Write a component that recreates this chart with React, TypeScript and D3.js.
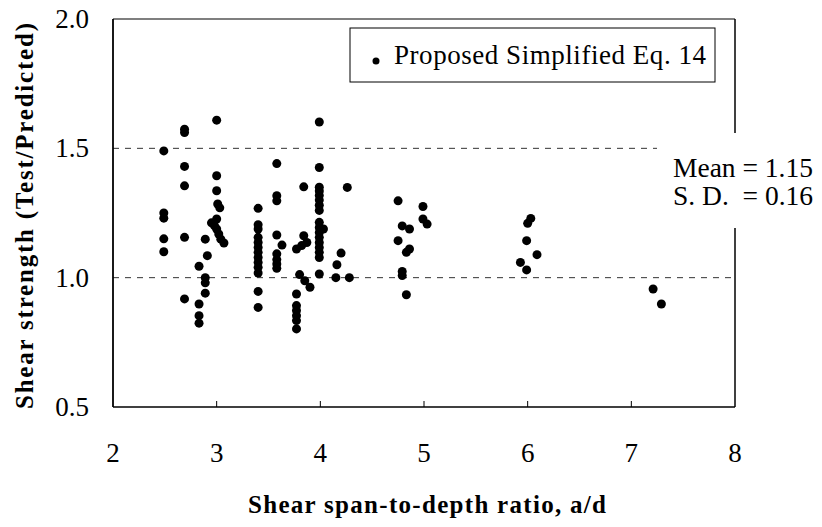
import React from "react";
import * as d3 from "d3";

const ratioAD: number[] = [
  2.49, 2.49, 2.49, 2.49, 2.49,
  2.69, 2.69, 2.69, 2.69, 2.69, 2.69,
  2.83, 2.83, 2.83, 2.83,
  2.89, 2.91, 2.89, 2.89, 2.89,
  3.0, 3.0, 3.0, 3.01, 3.03, 3.0, 2.95, 2.98, 3.0, 3.02, 3.04, 3.07,
  3.4, 3.4, 3.4, 3.4, 3.4, 3.4, 3.4, 3.4, 3.4, 3.4, 3.4, 3.4, 3.4,
  3.58, 3.58, 3.58, 3.58, 3.58, 3.58, 3.58, 3.58, 3.63,
  3.77, 3.82, 3.84, 3.87, 3.84, 3.8, 3.85, 3.9, 3.77, 3.77, 3.77, 3.77, 3.77, 3.77,
  3.99, 3.99, 3.99, 3.99, 3.99, 3.99, 3.99, 3.99, 3.99, 3.99, 3.99, 3.99, 3.99, 3.99, 3.99, 3.99, 3.99,
  4.03, 4.16, 4.15, 4.2, 4.26, 4.28,
  4.75, 4.99, 4.99, 5.03, 4.79, 4.86, 4.75, 4.83, 4.86, 4.79, 4.79, 4.83,
  6.03, 6.0, 5.99, 6.09, 5.93, 5.99,
  7.21, 7.29,
];

const strengthRatio: number[] = [
  1.49, 1.25, 1.23, 1.15, 1.1,
  1.574, 1.561, 1.43, 1.355, 1.156, 0.918,
  1.044, 0.898, 0.853, 0.824,
  1.149, 1.085, 1.0, 0.98, 0.94,
  1.609, 1.394, 1.336, 1.285, 1.27, 1.227, 1.212, 1.2, 1.188, 1.169, 1.149, 1.134,
  1.268, 1.205, 1.188, 1.156, 1.136, 1.117, 1.098, 1.078, 1.059, 1.04, 1.018, 0.947, 0.885,
  1.441, 1.317, 1.297, 1.165, 1.092, 1.07, 1.053, 1.036, 1.126,
  1.111, 1.124, 1.162, 1.136, 1.351, 1.012, 0.988, 0.963, 0.937, 0.892, 0.873, 0.853, 0.834, 0.802,
  1.602, 1.426, 1.35, 1.335, 1.318, 1.3, 1.28, 1.26, 1.214, 1.194, 1.175, 1.156, 1.136, 1.117, 1.098, 1.078, 1.014,
  1.188, 1.05, 1.0, 1.095, 1.349, 1.0,
  1.297, 1.275, 1.227, 1.207, 1.2, 1.188, 1.143, 1.098, 1.111, 1.024, 1.008, 0.934,
  1.229, 1.21, 1.143, 1.089, 1.059, 1.03,
  0.956, 0.898,
];

const xTicks: number[] = [2, 3, 4, 5, 6, 7, 8];
const yTicks: number[] = [0.5, 1.0, 1.5, 2.0];
const refLines: number[] = [1.5, 1.0];
const legendLabel = "Proposed Simplified Eq. 14";
const statsLines: string[] = ["Mean = 1.15", "S. D.  = 0.16"];
const xTitle = "Shear span-to-depth ratio, a/d";
const yTitle = "Shear strength (Test/Predicted)";

const W = 822;
const H = 527;
const left = 113;
const right = 735;
const top = 19;
const bottom = 407;
const font = "Liberation Serif";

export default function App() {
  const x = d3.scaleLinear().domain([2, 8]).range([left, right]);
  const y = d3.scaleLinear().domain([0.5, 2.0]).range([bottom, top]);
  const pts = ratioAD.map((a, i) => ({ a, v: strengthRatio[i] }));
  const gapTop = 133;
  const gapBottom = 228;

  return (
    <svg
      width={W}
      height={H}
      style={{ position: "absolute", left: 0, top: 0, background: "#fff" }}
    >
      <rect x={0} y={0} width={W} height={H} fill="#fff" />
      {refLines.map((v) => (
        <line
          key={v}
          x1={left}
          x2={v === 1.5 ? 657 : right}
          y1={y(v)}
          y2={y(v)}
          stroke="#333"
          strokeWidth={1}
          strokeDasharray="6,6"
        />
      ))}
      <line x1={left} x2={right} y1={top} y2={top} stroke="#000" strokeWidth={1.2} />
      <line x1={left} x2={right} y1={bottom} y2={bottom} stroke="#000" strokeWidth={1.5} />
      <line x1={left} x2={left} y1={top} y2={bottom} stroke="#000" strokeWidth={1.8} />
      <line x1={right} x2={right} y1={top} y2={gapTop} stroke="#000" strokeWidth={1.5} />
      <line x1={right} x2={right} y1={gapBottom} y2={bottom} stroke="#000" strokeWidth={1.5} />
      {xTicks.slice(1, -1).map((t) => (
        <line key={t} x1={x(t)} x2={x(t)} y1={bottom} y2={bottom - 6} stroke="#000" strokeWidth={1} />
      ))}
      {xTicks.map((t) => (
        <text key={t} x={x(t)} y={462} textAnchor="middle" fontFamily={font} fontSize={27} fill="#000">
          {t}
        </text>
      ))}
      {yTicks.map((t) => (
        <text key={t} x={89} y={y(t) + 9} textAnchor="end" fontFamily={font} fontSize={27} fill="#000">
          {t.toFixed(1)}
        </text>
      ))}
      {pts.map((p, i) => (
        <circle key={i} cx={x(p.a)} cy={y(p.v)} r={4.5} fill="#000" />
      ))}
      <rect x={350} y={28} width={365} height={54} fill="#fff" stroke="#000" strokeWidth={1} />
      <circle cx={376} cy={61} r={3.5} fill="#000" />
      <text x={394} y={64} fontFamily={font} fontSize={27} fill="#000" textLength={312} lengthAdjust="spacing">
        {legendLabel}
      </text>
      {statsLines.map((s, i) => (
        <text
          key={s}
          x={673}
          y={177 + i * 28}
          fontFamily={font}
          fontSize={27.5}
          fill="#000"
          style={{ whiteSpace: "pre" }}
        >
          {s}
        </text>
      ))}
      <text
        x={427}
        y={513}
        textAnchor="middle"
        fontFamily={font}
        fontWeight="bold"
        fontSize={25}
        fill="#000"
        textLength={358}
        lengthAdjust="spacing"
      >
        {xTitle}
      </text>
      <text
        transform="translate(33,216) rotate(-90)"
        textAnchor="middle"
        fontFamily={font}
        fontWeight="bold"
        fontSize={25}
        fill="#000"
        textLength={386}
        lengthAdjust="spacing"
      >
        {yTitle}
      </text>
    </svg>
  );
}
